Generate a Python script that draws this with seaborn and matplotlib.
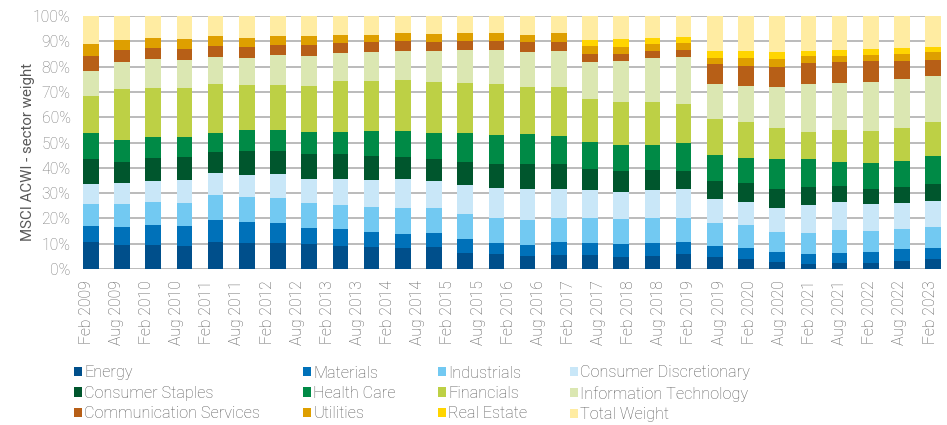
import numpy as np
import matplotlib
matplotlib.use("Agg")
import matplotlib.pyplot as plt
from matplotlib.patches import Patch
import seaborn as sns

# 28 bars, 29 date labels under them
periods = list(range(28))
tick_labels = ["Feb 2009", "Aug 2009", "Feb 2010", "Aug 2010", "Feb 2011", "Aug 2011",
               "Feb 2012", "Aug 2012", "Feb 2013", "Aug 2013", "Feb 2014", "Aug 2014",
               "Feb 2015", "Aug 2015", "Feb 2016", "Aug 2016", "Feb 2017", "Aug 2017",
               "Feb 2018", "Aug 2018", "Feb 2019", "Aug 2019", "Feb 2020", "Aug 2020",
               "Feb 2021", "Aug 2021", "Feb 2022", "Aug 2022", "Feb 2023"]

energy = [10.8, 9.6, 9.6, 9.2, 10.8, 10.4, 10.4, 10.0, 9.2, 8.8, 8.4, 8.8, 6.4, 6.1,
          5.3, 5.7, 5.7, 4.9, 5.3, 6.1, 4.9, 4.1, 2.9, 2.1, 2.5, 2.5, 3.3, 4.1]
materials = [6.3, 7.1, 7.9, 7.9, 8.7, 8.3, 7.9, 6.3, 6.7, 5.9, 5.5, 5.5, 5.6, 4.3,
             4.3, 5.1, 4.7, 5.1, 5.1, 4.7, 4.3, 4.3, 3.9, 4.0, 3.9, 4.3, 4.7, 4.3]
industrials = [8.7, 9.1, 9.1, 9.1, 9.8, 9.9, 9.9, 9.9, 9.5, 9.9, 10.3, 9.9, 9.8, 9.9,
               9.9, 9.5, 9.9, 9.9, 9.9, 9.5, 9.1, 9.1, 7.9, 8.2, 9.1, 8.3, 7.9, 8.3]
cons_disc = [7.9, 8.3, 8.3, 9.1, 8.7, 8.6, 9.4, 9.5, 10.3, 10.7, 11.5, 10.7, 11.5, 11.8,
             12.2, 11.4, 11.0, 10.6, 11.0, 11.4, 9.5, 9.1, 9.5, 11.1, 11.1, 10.7, 10.3, 10.3]
cons_staples = [9.9, 8.3, 9.0, 9.0, 8.3, 9.5, 9.1, 9.8, 9.8, 9.4, 8.6, 8.7, 9.1, 9.5,
                9.9, 9.9, 8.3, 8.3, 7.9, 7.1, 7.1, 7.5, 7.5, 7.1, 6.3, 5.9, 6.3, 6.7]
health_care = [10.2, 8.7, 8.3, 7.9, 7.5, 8.3, 8.3, 8.7, 8.7, 9.9, 10.3, 10.2, 11.4, 11.4,
               11.8, 11.0, 10.7, 10.3, 9.9, 11.2, 10.2, 9.8, 11.9, 11.1, 9.5, 10.3, 10.3, 11.0]
financials = [14.6, 20.1, 19.4, 19.4, 19.4, 17.8, 17.8, 18.2, 20.1, 19.7, 20.1, 20.1, 19.8, 20.2,
              18.6, 19.4, 16.9, 17.0, 17.0, 15.3, 14.2, 14.3, 12.2, 10.6, 12.6, 12.6, 13.0, 13.5]
info_tech = [9.9, 10.6, 11.4, 11.0, 10.6, 10.6, 11.8, 11.8, 11.1, 11.5, 11.5, 12.3, 13.0, 13.4,
             13.8, 14.2, 14.6, 16.1, 17.3, 18.5, 13.9, 14.2, 16.2, 19.0, 18.6, 19.3, 19.3, 18.1]
comm_services = [5.9, 4.8, 4.4, 4.4, 4.4, 4.4, 4.0, 4.4, 3.9, 3.9, 3.9, 3.5, 3.5, 3.5,
                 3.9, 3.5, 3.2, 2.8, 2.8, 2.8, 7.9, 7.9, 7.9, 8.2, 8.2, 8.3, 7.1, 6.3]
utilities = [4.9, 3.9, 3.9, 3.9, 3.9, 3.5, 3.5, 3.5, 3.2, 2.8, 3.2, 3.2, 3.2, 3.2,
             2.8, 3.6, 3.2, 2.8, 2.7, 2.7, 2.3, 3.1, 3.1, 2.8, 2.4, 2.4, 2.8, 3.2]
real_estate = [0, 0, 0, 0, 0, 0, 0, 0, 0, 0, 0, 0, 0, 0,
               0, 0, 2.3, 3.1, 2.4, 2.4, 2.8, 2.8, 2.8, 2.0, 2.4, 2.4, 2.4, 2.0]
total_weight = [10.9, 9.5, 8.7, 9.1, 7.9, 8.7, 7.9, 7.9, 7.5, 7.5, 6.7, 7.1, 6.7, 6.7,
                7.5, 6.7, 9.5, 9.1, 8.7, 8.3, 13.8, 13.8, 14.2, 13.8, 13.4, 13.0, 12.6, 12.2]

sectors = [
    ("Energy", energy, "#004f8b"),
    ("Materials", materials, "#0071b9"),
    ("Industrials", industrials, "#72c9f2"),
    ("Consumer Discretionary", cons_disc, "#c9e7f8"),
    ("Consumer Staples", cons_staples, "#00562d"),
    ("Health Care", health_care, "#008a46"),
    ("Financials", financials, "#bdd045"),
    ("Information Technology", info_tech, "#dbe7b2"),
    ("Communication Services", comm_services, "#b75f17"),
    ("Utilities", utilities, "#de9f00"),
    ("Real Estate", real_estate, "#ffd500"),
    ("Total Weight", total_weight, "#ffeca2"),
]

sns.set_style("white")
plt.rcParams["font.family"] = ["Roboto", "DejaVu Sans"]
plt.rcParams["font.weight"] = "light"

fig = plt.figure(figsize=(9.47, 4.25), dpi=100)
ax = fig.add_axes([0.0877, 0.367, 0.906, 0.595])

bottom = np.zeros(len(periods))
for name, vals, color in sectors:
    sns.barplot(x=periods, y=vals, bottom=bottom, color=color, width=0.5,
                saturation=1, errorbar=None, linewidth=0, zorder=3, ax=ax)
    bottom = bottom + np.array(vals)

ax.set_xlim(-0.25, 27.25)
ax.set_ylim(0, 100)
ax.set_yticks(range(0, 101, 10))
ax.set_yticklabels([f"{v}%" for v in range(0, 101, 10)], fontsize=11.3, color="#7a7a7a")
ax.set_xticks(np.linspace(-0.15, 26.9, len(tick_labels)))
ax.set_xticklabels(tick_labels, rotation=90, fontsize=11.3, color="#595959")
ax.tick_params(axis="both", length=0)
ax.tick_params(axis="y", pad=9)
ax.tick_params(axis="x", pad=8)
ax.yaxis.grid(True, color="#b5b5b5", linewidth=1.3, zorder=0)
ax.set_axisbelow(True)
for s in ax.spines.values():
    s.set_visible(False)
ax.set_xlabel("")
ax.set_ylabel("MSCI ACWI - sector weight", fontsize=10.8, color="#595959")
ax.yaxis.set_label_coords(-0.056, 0.462)

# legend is filled row by row in the reference
handles = [Patch(facecolor=c, edgecolor="none", label=n) for n, _, c in sectors]
ncol, nrow = 4, 3
order = [r * ncol + c for c in range(ncol) for r in range(nrow)]
leg = fig.legend([handles[i] for i in order], [sectors[i][0] for i in order],
                 ncol=ncol, loc="upper left", bbox_to_anchor=(0.078, 0.140),
                 frameon=False, fontsize=11.7, handlelength=0.5, handleheight=0.5,
                 handletextpad=0.15, columnspacing=2.6, labelspacing=0.33,
                 borderpad=0, borderaxespad=0)
for t in leg.get_texts():
    t.set_color("#595959")

fig.savefig("out.png", dpi=100)
